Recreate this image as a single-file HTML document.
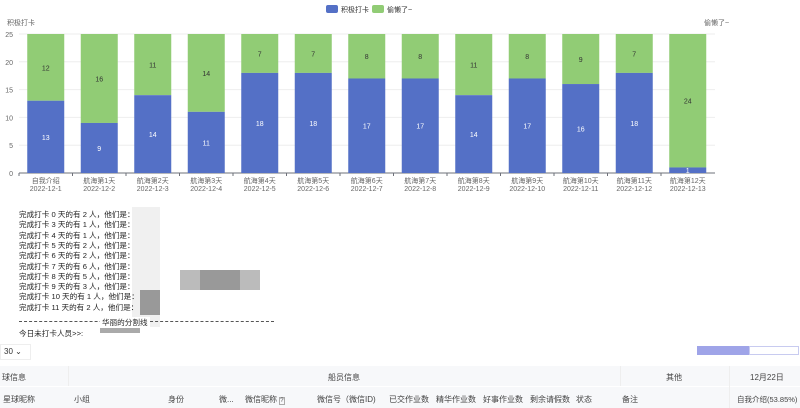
<!DOCTYPE html>
<html><head><meta charset="utf-8"><style>
body{margin:0;width:800px;height:408px;overflow:hidden;background:#fff;font-family:"Liberation Sans","Noto Sans CJK SC",sans-serif;color:#333;position:relative}
.t{position:absolute;font-size:7.6px;color:#222;left:19px;white-space:nowrap;z-index:2}
.hdr{position:absolute;left:0;width:800px;background:#f7f8fa;font-size:8px;color:#444}
.c{position:absolute;font-size:8px;color:#444;white-space:nowrap}
</style></head><body>
<svg id="ch" width="800" height="200" style="position:absolute;left:0;top:0" font-family="Liberation Sans, Noto Sans CJK SC, sans-serif"></svg>
<div style="position:absolute;left:132px;top:207px;width:28px;height:120px;background:#f0f0f0"></div>
<div style="position:absolute;left:140px;top:290px;width:20px;height:25px;background:#999"></div>
<div style="position:absolute;left:180px;top:270px;width:80px;height:20px;background:#bbb"></div>
<div style="position:absolute;left:200px;top:270px;width:40px;height:20px;background:#999"></div>
<div style="position:absolute;left:100px;top:327px;width:40px;height:6px;background:#aaa"></div>
<div id="lines"></div>
<div style="position:absolute;left:19px;top:321px;width:255px;border-top:1px dashed #555"></div>
<div class="t" style="top:317px;left:100px;background:#fff;padding:0 2px">华丽的分割线</div>
<div class="t" style="top:328px">今日未打卡人员>>:</div>
<div style="position:absolute;left:0;top:344px;width:26px;height:14px;border:1px solid #eee;font-size:8px;line-height:14px;padding-left:3px">30 ⌄</div>
<div style="position:absolute;left:697px;top:346px;width:52px;height:9px;background:#9fa4e8"></div>
<div style="position:absolute;left:749px;top:346px;width:50px;height:9px;border:1px solid #c8cbf0;box-sizing:border-box"></div>
<div class="hdr" style="top:366px;height:20px"></div>
<div class="hdr" style="top:387px;height:21px"></div>
<div style="position:absolute;left:68px;top:366px;width:1px;height:20px;background:#eee"></div>
<div style="position:absolute;left:620px;top:366px;width:1px;height:20px;background:#eee"></div>
<div style="position:absolute;left:729px;top:366px;width:1px;height:42px;background:#eee"></div>
<div class="c" style="left:2px;top:372px">球信息</div>
<div class="c" style="left:328px;top:372px">船员信息</div>
<div class="c" style="left:666px;top:372px">其他</div>
<div class="c" style="left:750px;top:372px">12月22日</div>
<div class="c" style="left:3px;top:394px">星球昵称</div>
<div class="c" style="left:74px;top:394px">小组</div>
<div class="c" style="left:168px;top:394px">身份</div>
<div class="c" style="left:219px;top:394px">微...</div>
<div class="c" style="left:245px;top:394px">微信昵称 <span style="border:1px solid #aaa;font-size:6px">?</span></div>
<div class="c" style="left:317px;top:394px">微信号（微信ID)</div>
<div class="c" style="left:389px;top:394px">已交作业数</div>
<div class="c" style="left:436px;top:394px">精华作业数</div>
<div class="c" style="left:483px;top:394px">好事作业数</div>
<div class="c" style="left:530px;top:394px">剩余请假数</div>
<div class="c" style="left:576px;top:394px">状态</div>
<div class="c" style="left:622px;top:394px">备注</div>
<div class="c" style="left:737px;top:394px;font-size:7.5px">自我介绍(53.85%)</div>
<script>
var blue=[13,9,14,11,18,18,17,17,14,17,16,18,1],green=[12,16,11,14,7,7,8,8,11,8,9,7,24];
var s='',u=139/25;
for(var k=0;k<=5;k++){var y=173-k*5*u;s+='<line x1="19" x2="715" y1="'+y+'" y2="'+y+'" stroke="'+(k?'#eee':'#6e7079')+'"/><text x="13" y="'+(y+3)+'" font-size="7" fill="#666" text-anchor="end">'+k*5+'</text>';}
s+='<text x="7" y="25" font-size="7" fill="#666">积极打卡</text><text x="704" y="25" font-size="7" fill="#666">偷懒了~</text>';
s+='<rect x="326" y="5" width="12" height="8" rx="2" fill="#5470c6"/><text x="341" y="12" font-size="7" fill="#333">积极打卡</text>';
s+='<rect x="372" y="5" width="12" height="8" rx="2" fill="#91cc75"/><text x="387" y="12" font-size="7" fill="#333">偷懒了~</text>';
for(var i=0;i<13;i++){var x=27.25+53.5*i,by=173-blue[i]*u,cx=x+18.5;
s+='<rect x="'+x+'" y="34" width="37" height="'+(by-34)+'" fill="#91cc75"/>';
s+='<rect x="'+x+'" y="'+by+'" width="37" height="'+(173-by)+'" fill="#5470c6"/>';
s+='<text x="'+cx+'" y="'+((by+173)/2+3)+'" font-size="7" fill="#fff" text-anchor="middle">'+blue[i]+'</text>';
s+='<text x="'+cx+'" y="'+((by+34)/2+3)+'" font-size="7" fill="#333" text-anchor="middle">'+green[i]+'</text>';
s+='<line x1="'+(19+53.5*i)+'" x2="'+(19+53.5*i)+'" y1="173" y2="176" stroke="#6e7079"/>';
s+='<text x="'+cx+'" y="183" font-size="7" fill="#666" text-anchor="middle">'+(i?'航海第'+i+'天':'自我介绍')+'</text>';
s+='<text x="'+cx+'" y="191" font-size="7" fill="#666" text-anchor="middle">2022-12-'+(i+1)+'</text>';}
document.getElementById('ch').innerHTML=s;
var d=[[0,2],[3,1],[4,1],[5,2],[6,2],[7,6],[8,5],[9,3],[10,1],[11,2]],h='';
for(var j=0;j<d.length;j++)h+='<div class="t" style="top:'+(209+j*10.3)+'px">完成打卡 '+d[j][0]+' 天的有 '+d[j][1]+' 人，他们是：</div>';
document.getElementById('lines').innerHTML=h;
</script>
</body></html>
